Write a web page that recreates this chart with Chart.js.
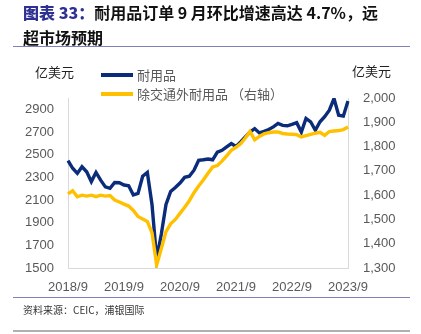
<!DOCTYPE html>
<html>
<head>
<meta charset="utf-8">
<script src="https://cdn.jsdelivr.net/npm/chart.js@4"></script>
<style>
  body { margin:0; background:#fff; }
  #wrap { position:relative; width:421px; height:334px; overflow:hidden; }
  #c { position:absolute; left:0; top:0; }
  .title { position:absolute; left:23px; top:0px; font:bold 16px "Noto Sans CJK SC", sans-serif; color:#111; line-height:25px; white-space:nowrap; }
  .title b { color:#2E3192; }
  .rule { position:absolute; left:13px; width:397px; height:1px; background:#8080B8; }
  .src { position:absolute; left:23px; top:302px; font:10px "Noto Sans CJK SC", sans-serif; color:#333; }
</style>
</head>
<body>
<div id="wrap">
  <canvas id="c" width="421" height="334"></canvas>
  <div class="title"><b>图表 33：</b>耐用品订单 9 月环比增速高达 4.7%，远<br>超市场预期</div>
  <div class="rule" style="top:46px"></div>
  <div class="rule" style="top:297px"></div>
  <div class="src">资料来源：CEIC，浦银国际</div>
  <div class="rule" style="top:330px;height:2px;background:#B0B0B0"></div>
</div>
<script>
// monthly, 2018/9 .. 2023/9
const months = [
  '2018/9','2018/10','2018/11','2018/12',
  '2019/1','2019/2','2019/3','2019/4','2019/5','2019/6','2019/7','2019/8','2019/9','2019/10','2019/11','2019/12',
  '2020/1','2020/2','2020/3','2020/4','2020/5','2020/6','2020/7','2020/8','2020/9','2020/10','2020/11','2020/12',
  '2021/1','2021/2','2021/3','2021/4','2021/5','2021/6','2021/7','2021/8','2021/9','2021/10','2021/11','2021/12',
  '2022/1','2022/2','2022/3','2022/4','2022/5','2022/6','2022/7','2022/8','2022/9','2022/10','2022/11','2022/12',
  '2023/1','2023/2','2023/3','2023/4','2023/5','2023/6','2023/7','2023/8','2023/9'
];

// 耐用品 (left axis, 亿美元)
const durable = [
  2448,2380,2335,2393,2349,2262,2343,2275,2216,2203,
  2255,2252,2232,2226,2145,2158,2310,2343,2060,1578,
  1800,2060,2175,2210,2250,2300,2310,2363,2450,2455,
  2462,2455,2522,2538,2568,2598,2572,2613,2657,2700,
  2730,2692,2705,2722,2745,2775,2758,2755,2768,2782,
  2700,2820,2790,2715,2790,2835,2892,2995,2848,2840,
  2973
];

// 除交通外耐用品 (right axis, 亿美元)
const exTransport = [
  1605,1618,1593,1600,1596,1600,1594,1600,1596,1598,
  1580,1572,1563,1555,1537,1512,1502,1492,1445,1312,
  1380,1450,1482,1500,1525,1550,1577,1610,1638,1662,
  1690,1716,1722,1740,1762,1785,1797,1812,1835,1862,
  1828,1842,1852,1857,1860,1860,1854,1852,1851,1849,
  1840,1845,1850,1855,1859,1846,1862,1864,1866,1870,
  1881
];

const leftTicks = [1500,1700,1900,2100,2300,2500,2700,2900];
const rightTicks = [1300,1400,1500,1600,1700,1800,1900,2000];
const xTickLabels = ['2018/9','2019/9','2020/9','2021/9','2022/9','2023/9'];

const BLUE = '#0A2C7A', YELLOW = '#FFC000', AXIS = '#D9D9D9', TXT = '#595959';
const tickFont = { family:'"Liberation Sans", Arial, sans-serif', size:13 };

// legend + unit labels drawn on canvas
const extras = {
  id:'extras',
  afterDraw(chart){
    const ctx = chart.ctx;
    ctx.save();
    ctx.font = '13px "Noto Sans CJK SC", sans-serif';
    ctx.textBaseline = 'middle';
    ctx.fillStyle = '#222';
    ctx.fillText('亿美元', 35, 72);
    ctx.fillText('亿美元', 352, 71);
    const rows = [chart.data.datasets[0], chart.data.datasets[1]];
    rows.forEach((ds, i) => {
      const y = 75 + i*19;
      ctx.strokeStyle = ds.borderColor;
      ctx.lineWidth = 4;
      ctx.beginPath(); ctx.moveTo(101, y); ctx.lineTo(133, y); ctx.stroke();
      ctx.fillStyle = TXT;
      ctx.fillText(ds.label, 137, y);
    });
    ctx.restore();
  }
};

new Chart(document.getElementById('c'), {
  type:'line',
  data:{
    labels: months,
    datasets:[
      { label:'耐用品', data:durable, yAxisID:'y', borderColor:BLUE, borderWidth:3.4, pointRadius:0, tension:0, order:2 },
      { label:'除交通外耐用品 （右轴）', data:exTransport, yAxisID:'y1', borderColor:YELLOW, borderWidth:3.4, pointRadius:0, tension:0, order:1 }
    ]
  },
  options:{
    responsive:false,
    animation:false,
    layout:{ padding:{ top:98, left:0, right:0, bottom:0 } },
    plugins:{ legend:{ display:false }, tooltip:{ enabled:false } },
    scales:{
      x:{
        grid:{ display:false, drawTicks:false },
        border:{ display:true, color:AXIS },
        ticks:{
          autoSkip:false, maxRotation:0, padding:12, color:TXT, font:tickFont,
          callback(v, i){ const l = months[i]; return xTickLabels.includes(l) ? l : null; }
        },
        afterFit(s){ s.height = 66; }
      },
      y:{
        position:'left', min:1500, max:3000,
        grid:{ display:false, drawTicks:false },
        border:{ display:true, color:AXIS },
        ticks:{ padding:14, color:TXT, font:tickFont, callback:v => String(v) },
        afterBuildTicks(s){ s.ticks = leftTicks.map(v => ({ value:v })); },
        afterFit(s){ s.width = 68; }
      },
      y1:{
        position:'right', min:1300, max:2000,
        grid:{ display:false, drawTicks:false },
        border:{ display:true, color:AXIS },
        ticks:{ padding:15, color:TXT, font:tickFont, callback:v => v.toLocaleString('en-US') },
        afterBuildTicks(s){ s.ticks = rightTicks.map(v => ({ value:v })); },
        afterFit(s){ s.width = 73; }
      }
    }
  },
  plugins:[extras]
});
</script>
</body>
</html>
